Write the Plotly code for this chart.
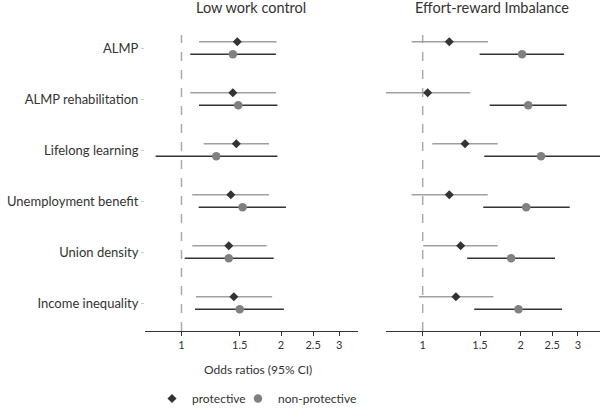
import math
import plotly.graph_objects as go

# ---------------- data ----------------
categories = ["ALMP", "ALMP rehabilitation", "Lifelong learning",
              "Unemployment benefit", "Union density", "Income inequality"]

# Low work control
lwc_prot_or = [1.475, 1.43, 1.465, 1.41, 1.39, 1.44]
lwc_prot_lo = [1.13, 1.063, 1.167, 1.078, 1.078, 1.106]
lwc_prot_hi = [1.94, 1.93, 1.84, 1.84, 1.81, 1.88]
lwc_np_or = [1.43, 1.485, 1.274, 1.53, 1.39, 1.50]
lwc_np_lo = [1.063, 1.13, 0.835, 1.127, 1.023, 1.099]
lwc_np_hi = [1.93, 1.95, 1.95, 2.07, 1.90, 2.04]

# Effort-reward imbalance
eri_prot_or = [1.207, 1.036, 1.349, 1.207, 1.308, 1.265]
eri_prot_lo = [0.925, 0.766, 1.07, 0.925, 1.004, 0.974]
eri_prot_hi = [1.587, 1.40, 1.70, 1.584, 1.70, 1.65]
eri_np_or = [2.02, 2.11, 2.31, 2.08, 1.87, 1.97]
eri_np_lo = [1.496, 1.606, 1.546, 1.535, 1.37, 1.44]
eri_np_hi = [2.72, 2.77, 3.55, 2.83, 2.55, 2.68]

panel_titles = ["Low work control", "Effort-reward Imbalance"]
x_tickvals = [1, 1.5, 2, 2.5, 3]
x_ticktext = ["1", "1.5", "2", "2.5", "3"]
x_title = "Odds ratios (95% CI)"
series_names = ["protective", "non-protective"]

# ---------------- styling ----------------
W, H = 600, 413
FONT = "Lato"
DARK = "#333333"
PROT_MARK = "#333333"
PROT_LINE = "#a0a0a0"
NP_MARK = "#808080"
NP_LINE = "#333333"
OFF = 0.1235

def px_y(p):
    return (H - p) / H

idx = list(range(len(categories)))
y_prot = [i - OFF for i in idx]
y_np = [i + OFF for i in idx]

fig = go.Figure()

panels = [
    ("x", "y", lwc_prot_or, lwc_prot_lo, lwc_prot_hi, lwc_np_or, lwc_np_lo, lwc_np_hi),
    ("x2", "y2", eri_prot_or, eri_prot_lo, eri_prot_hi, eri_np_or, eri_np_lo, eri_np_hi),
]

for k, (xa, ya, por, plo, phi, nor, nlo, nhi) in enumerate(panels):
    fig.add_trace(go.Scatter(
        x=nor, y=y_np, xaxis=xa, yaxis=ya, mode="markers",
        name=series_names[1], showlegend=(k == 0), legend="legend2",
        marker=dict(symbol="circle", size=8.5, color=NP_MARK),
        error_x=dict(type="data", symmetric=False,
                     array=[h - o for h, o in zip(nhi, nor)],
                     arrayminus=[o - l for o, l in zip(nor, nlo)],
                     color=NP_LINE, thickness=1.5, width=0),
    ))
    fig.add_trace(go.Scatter(
        x=por, y=y_prot, xaxis=xa, yaxis=ya, mode="markers",
        name=series_names[0], showlegend=(k == 0), legend="legend",
        marker=dict(symbol="diamond", size=7, color=PROT_MARK),
        error_x=dict(type="data", symmetric=False,
                     array=[h - o for h, o in zip(phi, por)],
                     arrayminus=[o - l for o, l in zip(por, plo)],
                     color=PROT_LINE, thickness=1.5, width=0),
    ))

y_top_px, y_bot_px = 35, 331
row0_px, row_step = 48, 51
y_range = [(y_bot_px - row0_px) / row_step, (y_top_px - row0_px) / row_step]
ydom = [px_y(y_bot_px), px_y(y_top_px)]

xaxis_common = dict(
    type="log", showgrid=False, zeroline=False, showline=True,
    linecolor=DARK, linewidth=1, ticks="outside", ticklen=4,
    tickcolor=DARK, tickvals=x_tickvals, ticktext=x_ticktext,
    tickfont=dict(family=FONT, size=11, color=DARK), automargin=False,
)
yaxis_common = dict(
    range=y_range, domain=ydom, showgrid=False, zeroline=False,
    showline=False, tickvals=idx, automargin=False,
)

legend_common = dict(orientation="h", xanchor="left", y=0, yanchor="bottom",
                     font=dict(family=FONT, size=12, color=DARK),
                     itemwidth=30, bgcolor="rgba(0,0,0,0)")

fig.update_layout(
    width=W, height=H,
    margin=dict(l=0, r=0, t=0, b=0),
    paper_bgcolor="white", plot_bgcolor="white",
    font=dict(family=FONT, color=DARK),
    xaxis=dict(xaxis_common, domain=[145 / W, 358 / W],
               range=[math.log10(0.7757), math.log10(3.418)], anchor="y"),
    xaxis2=dict(xaxis_common, domain=[386 / W, 1.0],
                range=[math.log10(0.7714), math.log10(3.506)], anchor="y2"),
    yaxis=dict(yaxis_common, ticktext=categories, ticks="outside", ticklen=3,
               tickcolor="#cccccc",
               tickfont=dict(family=FONT, size=13, color=DARK), anchor="x"),
    yaxis2=dict(yaxis_common, showticklabels=False, anchor="x2"),
    legend=dict(legend_common, x=152 / W),
    legend2=dict(legend_common, x=238 / W),
    showlegend=True,
)

# reference lines at OR = 1
for xr, yr in [("x", "y domain"), ("x2", "y2 domain")]:
    fig.add_shape(type="line", xref=xr, yref=yr, x0=1, x1=1, y0=0, y1=1,
                  line=dict(color="#aaaaaa", width=1.5, dash="dash"), layer="below")

# panel titles
for t, cx in zip(panel_titles, [251, 492]):
    fig.add_annotation(text=t, x=cx / W, y=px_y(8), xref="paper", yref="paper",
                       showarrow=False, xanchor="center", yanchor="middle",
                       font=dict(family=FONT, size=14.5, color=DARK))

fig.add_annotation(text=x_title, x=258 / W, y=px_y(369), xref="paper", yref="paper",
                   showarrow=False, xanchor="center", yanchor="middle",
                   font=dict(family=FONT, size=12, color=DARK))

fig.write_html("out.html", config={"displayModeBar": False},
               post_script="document.body.style.margin='0';")
